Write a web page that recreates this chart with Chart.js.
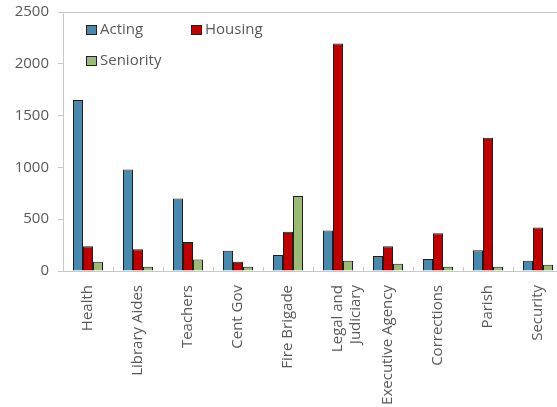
<!DOCTYPE html>
<html>
<head>
<meta charset="utf-8">
<style>
  html, body { margin: 0; padding: 0; background: #fff; overflow: hidden; }
  .chart { position: relative; width: 566px; height: 407px; }
</style>
</head>
<body>
<div class="chart">
  <canvas id="unitChart"></canvas>
</div>
<script src="https://cdn.jsdelivr.net/npm/chart.js"></script>
<script>
const categories = ['Health', 'Library Aides', 'Teachers', 'Cent Gov', 'Fire Brigade',
  ['Legal and', 'Judiciary'], 'Executive Agency', 'Corrections', 'Parish', 'Security'];
const acting    = [1650, 980, 700, 195, 155, 390, 145, 115, 200, 100];
const housing   = [240, 210, 280, 90, 380, 2195, 240, 365, 1285, 420];
const seniority = [90, 40, 110, 40, 725, 100, 70, 40, 40, 60];
const yTicks = [0, 500, 1000, 1500, 2000, 2500];

const textColor = '#595959';
const axisColor = '#c8c8c8';
const fontFamily = '"Open Sans", "Noto Sans", sans-serif';

// legend drawn inside the plot area, two columns, plus frame bits
const innerLegend = {
  id: 'innerLegend',
  afterDraw(chart) {
    const ctx = chart.ctx;
    const area = chart.chartArea;
    const xs = chart.scales.x;
    const slots = [[23, 13], [128, 13], [23, 44]];
    ctx.save();
    ctx.font = '15px ' + fontFamily;
    ctx.textBaseline = 'middle';
    chart.data.datasets.forEach((ds, i) => {
      const x = area.left + slots[i][0];
      const y = area.top + slots[i][1];
      ctx.fillStyle = ds.backgroundColor;
      ctx.fillRect(x, y, 11, 10);
      ctx.strokeStyle = '#222';
      ctx.lineWidth = 1;
      ctx.strokeRect(x + 0.5, y + 0.5, 10, 9);
      ctx.fillStyle = textColor;
      ctx.fillText(ds.label, x + 14, y + 5);
    });
    ctx.strokeStyle = axisColor;
    ctx.beginPath();
    // top frame line
    ctx.moveTo(area.left, area.top + 0.5);
    ctx.lineTo(area.right, area.top + 0.5);
    // small inward ticks between categories
    for (let i = 1; i < categories.length; i++) {
      const x = Math.round((xs.getPixelForTick(i - 1) + xs.getPixelForTick(i)) / 2) + 0.5;
      ctx.moveTo(x, area.bottom - 4);
      ctx.lineTo(x, area.bottom);
    }
    ctx.stroke();
    ctx.restore();
  }
};

const ctx = document.getElementById('unitChart').getContext('2d');
new Chart(ctx, {
  type: 'bar',
  data: {
    labels: categories,
    datasets: [
      { label: 'Acting', data: acting, backgroundColor: '#4a89ae' },
      { label: 'Housing', data: housing, backgroundColor: '#c00000' },
      { label: 'Seniority', data: seniority, backgroundColor: '#9bbb72' }
    ]
  },
  options: {
    responsive: true,
    maintainAspectRatio: false,
    animation: false,
    layout: { padding: { top: 12, right: 3, left: 0, bottom: 0 } },
    datasets: {
      bar: {
        borderColor: '#1e1e1e',
        borderWidth: 1,
        borderSkipped: 'bottom',
        categoryPercentage: 0.6,
        barPercentage: 1.0
      }
    },
    plugins: {
      legend: { display: false },
      tooltip: { enabled: false }
    },
    scales: {
      x: {
        grid: { display: false },
        border: { color: axisColor },
        ticks: {
          color: textColor,
          font: { family: fontFamily, size: 15 },
          minRotation: 90,
          maxRotation: 90,
          padding: 6,
          autoSkip: false
        },
        afterFit(scale) {
          scale.height = 136;
          scale.paddingTop = 0;
        }
      },
      y: {
        min: 0,
        max: 2500,
        afterBuildTicks(scale) { scale.ticks = yTicks.map(v => ({ value: v })); },
        grid: { drawOnChartArea: false, color: axisColor, tickLength: 5 },
        border: { color: axisColor },
        ticks: {
          color: textColor,
          font: { family: fontFamily, size: 15 },
          padding: 9,
          callback: v => String(v)
        },
        afterFit(scale) {
          scale.width = 63;
          scale.paddingTop = 0;
          scale.paddingBottom = 0;
        }
      }
    }
  },
  plugins: [innerLegend]
});
</script>
</body>
</html>
